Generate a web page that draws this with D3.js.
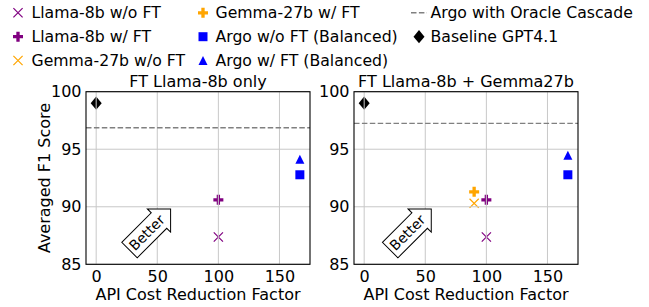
<!DOCTYPE html>
<html>
<head>
<meta charset="utf-8">
<script src="https://cdn.jsdelivr.net/npm/d3@7"></script>
<style>
    body { margin: 0; background: #ffffff; }
    text { font-family: "DejaVu Sans", sans-serif; fill: #000000; }
</style>
</head>
<body>
<div id="chart"></div>
<script>
var panelTitles = ["FT Llama-8b only", "FT Llama-8b + Gemma27b"];

// [API cost reduction factor, averaged F1] per panel, null when not plotted
var llamaNoFT = [[100, 87.37], [100, 87.37]];
var llamaFT = [[100, 90.6], [100, 90.6]];
var gemmaNoFT = [null, [90, 90.3]];
var gemmaFT = [null, [90, 91.3]];
var argoNoFT = [[166.7, 92.78], [166.7, 92.78]];
var argoFT = [[166.7, 94.12], [166.7, 94.47]];
var baselineGPT = [[0, 99.0], [0, 99.0]];
var oracleF1 = [96.87, 97.25];

var xTicks = [0, 50, 100, 150];
var yTicks = [85, 90, 95, 100];
var xDomain = [-8.33, 175];
var yDomain = [85, 100];
var betterAt = [[41.5, 87.75], [35.5, 87.75]];

var series = [
    {name: "Llama-8b w/o FT", values: llamaNoFT, shape: "x", color: "purple"},
    {name: "Llama-8b w/ FT", values: llamaFT, shape: "plus", color: "purple"},
    {name: "Gemma-27b w/o FT", values: gemmaNoFT, shape: "x", color: "orange"},
    {name: "Gemma-27b w/ FT", values: gemmaFT, shape: "plus", color: "orange"},
    {name: "Argo w/o FT (Balanced)", values: argoNoFT, shape: "square", color: "blue"},
    {name: "Argo w/ FT (Balanced)", values: argoFT, shape: "triangle", color: "blue"},
    {name: "Argo with Oracle Cascade", values: null, shape: "dash", color: "gray"},
    {name: "Baseline GPT4.1", values: baselineGPT, shape: "diamond", color: "black"}
];

var fontSize = 16;
var legendFontSize = 15.7;
var gridColor = "#c8c8c8";
var panelLeft = [86, 354],
    panelTop = 91.7,
    panelWidth = 224,
    panelHeight = 172.6;

function markerPath(shape) {
    var h;
    if (shape === "x") {
        h = 4.6;
        return "M" + (-h) + "," + (-h) + "L" + h + "," + h + "M" + (-h) + "," + h + "L" + h + "," + (-h);
    }
    if (shape === "plus") {
        h = 5;
        var a = h / 3;
        return "M" + (-a) + "," + (-h) + "H" + a + "V" + (-a) + "H" + h + "V" + a + "H" + a +
            "V" + h + "H" + (-a) + "V" + a + "H" + (-h) + "V" + (-a) + "H" + (-a) + "Z";
    }
    if (shape === "square") {
        h = 4.5;
        return "M" + (-h) + "," + (-h) + "H" + h + "V" + h + "H" + (-h) + "Z";
    }
    if (shape === "triangle") {
        h = 4.5;
        return "M0," + (-h) + "L" + h + "," + h + "L" + (-h) + "," + h + "Z";
    }
    if (shape === "diamond") {
        return "M0,-6.6L5.5,0L0,6.6L-5.5,0Z";
    }
    return "";
}

function drawMarker(sel, d, cx, cy) {
    if (d.shape === "dash") {
        sel.append("line")
            .attr("x1", cx - 8).attr("x2", cx + 8)
            .attr("y1", cy).attr("y2", cy)
            .style("stroke", d.color)
            .style("stroke-width", 1.5)
            .style("stroke-dasharray", "5.5,2.4");
        return;
    }
    var p = sel.append("path")
        .attr("d", markerPath(d.shape))
        .attr("transform", "translate(" + cx + "," + cy + ")");
    if (d.shape === "x") {
        p.style("fill", "none").style("stroke", d.color).style("stroke-width", 1.2);
    } else {
        p.style("fill", d.color);
    }
}

var svg = d3.select("#chart").append("svg")
    .attr("width", 649)
    .attr("height", 307);

//legend, three columns filled top to bottom
var legendColX = [18, 203, 419],
    legendTextX = [31.5, 215.5, 430.5],
    legendRowY = [12.8, 36.7, 60.5];

var legend = svg.append("g").attr("class", "legend");
series.forEach(function (d, i) {
    var col = Math.floor(i / 3), row = i % 3;
    drawMarker(legend, d, legendColX[col], legendRowY[row]);
    legend.append("text")
        .attr("x", legendTextX[col])
        .attr("y", legendRowY[row])
        .attr("dy", "0.36em")
        .style("font-size", legendFontSize + "px")
        .text(d.name);
});

panelTitles.forEach(function (title, p) {
    var g = svg.append("g")
        .attr("transform", "translate(" + panelLeft[p] + "," + panelTop + ")");

    var x = d3.scaleLinear().domain(xDomain).range([0, panelWidth]);
    var y = d3.scaleLinear().domain(yDomain).range([panelHeight, 0]);

    // markers go first, grid is drawn on top of them like matplotlib does
    series.forEach(function (d) {
        if (!d.values || !d.values[p]) return;
        drawMarker(g, d, x(d.values[p][0]), y(d.values[p][1]));
    });

    var grid = g.append("g").attr("class", "grid");
    grid.selectAll(".gx")
        .data(xTicks)
        .enter()
        .append("line")
        .attr("x1", function (d) { return x(d); })
        .attr("x2", function (d) { return x(d); })
        .attr("y1", 0)
        .attr("y2", panelHeight)
        .style("stroke", gridColor)
        .style("stroke-width", 1);
    grid.selectAll(".gy")
        .data(yTicks)
        .enter()
        .append("line")
        .attr("x1", 0)
        .attr("x2", panelWidth)
        .attr("y1", function (d) { return y(d); })
        .attr("y2", function (d) { return y(d); })
        .style("stroke", gridColor)
        .style("stroke-width", 1);

    // oracle cascade reference line
    g.append("line")
        .attr("x1", 0)
        .attr("x2", panelWidth)
        .attr("y1", y(oracleF1[p]))
        .attr("y2", y(oracleF1[p]))
        .style("stroke", "gray")
        .style("stroke-width", 1.4)
        .style("stroke-dasharray", "5.5,2.4");

    // axes with ticks hidden, labels only
    var xAxis = d3.axisBottom(x).tickValues(xTicks).tickSize(0).tickPadding(6);
    var yAxis = d3.axisLeft(y).tickValues(yTicks).tickSize(0).tickPadding(4.5);

    var gx = g.append("g")
        .attr("transform", "translate(0," + panelHeight + ")")
        .call(xAxis);
    var gy = g.append("g").call(yAxis);
    [gx, gy].forEach(function (a) {
        a.select(".domain").remove();
        a.selectAll("text")
            .style("font-size", fontSize + "px")
            .style("font-family", "DejaVu Sans, sans-serif");
    });

    g.append("rect")
        .attr("width", panelWidth)
        .attr("height", panelHeight)
        .style("fill", "none")
        .style("stroke", "#000")
        .style("stroke-width", 1.1);

    g.append("text")
        .attr("x", panelWidth / 2)
        .attr("y", -5.2)
        .attr("text-anchor", "middle")
        .style("font-size", fontSize + "px")
        .text(title);

    g.append("text")
        .attr("x", panelWidth / 2)
        .attr("y", 208.8)
        .attr("text-anchor", "middle")
        .style("font-size", fontSize + "px")
        .text("API Cost Reduction Factor");

    if (p === 0) {
        g.append("text")
            .attr("transform", "translate(-42.2," + panelHeight / 2 + ") rotate(-90)")
            .attr("dy", "0.36em")
            .attr("text-anchor", "middle")
            .style("font-size", fontSize + "px")
            .text("Averaged F1 Score");
    }

    // "Better" arrow box (rarrow style)
    var bs = 14, pad = 0.2 * bs;
    var ba = g.append("g")
        .attr("transform", "translate(" + x(betterAt[p][0]) + "," + y(betterAt[p][1]) + ") rotate(-45)");
    var bt = ba.append("text")
        .attr("text-anchor", "middle")
        .attr("dy", "0.35em")
        .style("font-size", bs + "px")
        .text("Better");
    var tw = bt.node().getComputedTextLength();
    var th = bs * 1.164;
    var H = th + 2 * pad, dx = H / 2, dxx = H / 4;
    var left = -tw / 2 - pad,
        right = tw / 2 + pad - pad / 1.4,
        top = -H / 2, bottom = H / 2;
    var pts = [
        [left, top], [right - dxx, top], [right - dxx, top - dxx],
        [right + dx, 0], [right - dxx, bottom + dxx], [right - dxx, bottom], [left, bottom]
    ];
    ba.insert("path", "text")
        .attr("d", "M" + pts.join("L") + "Z")
        .style("fill", "#ffffff")
        .style("stroke", "#000")
        .style("stroke-width", 1);
});
</script>
</body>
</html>
